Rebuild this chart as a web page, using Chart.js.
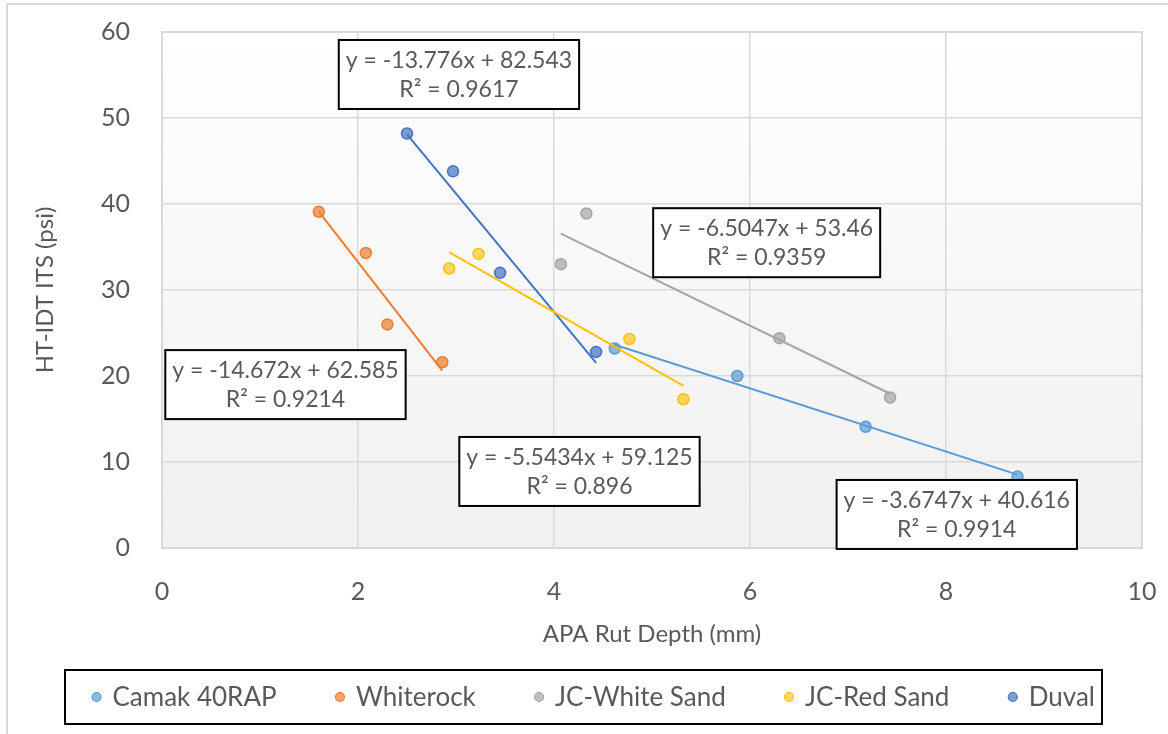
<!DOCTYPE html>
<html><head><meta charset="utf-8">
<script src="https://cdn.jsdelivr.net/npm/chart.js@4"></script>
<style>html,body{margin:0;padding:0;background:#fff}#wrap{width:1168px;height:734px;position:relative}</style>
</head><body><div id="wrap"><canvas id="c"></canvas></div>
<script>
// ---- data ----
const seriesNames = ['Camak 40RAP', 'Whiterock', 'JC-White Sand', 'JC-Red Sand', 'Duval'];
const camakX = [4.62, 5.87, 7.18, 8.73];
const camakY = [23.2, 20.0, 14.1, 8.3];
const whiterockX = [1.60, 2.08, 2.30, 2.86];
const whiterockY = [39.1, 34.3, 26.0, 21.6];
const whiteSandX = [4.33, 4.07, 6.30, 7.43];
const whiteSandY = [38.9, 33.0, 24.4, 17.5];
const redSandX = [2.93, 3.23, 4.77, 5.32];
const redSandY = [32.5, 34.2, 24.3, 17.3];
const duvalX = [2.50, 2.97, 3.45, 4.43];
const duvalY = [48.2, 43.8, 32.0, 22.8];
const trendSlopes = [-3.6747, -14.672, -5.5434, -6.5047, -13.776];
const trendIntercepts = [40.616, 62.585, 59.125, 53.46, 82.543];
const trendR2 = ['0.9914', '0.9214', '0.896', '0.9359', '0.9617'];
const xTicks = [0, 2, 4, 6, 8, 10];
const yTicks = [0, 10, 20, 30, 40, 50, 60];
const xTitle = 'APA Rut Depth (mm)';
const yTitle = 'HT-IDT ITS (psi)';

// ---- styles ----
const colors = ['#5B9BD5', '#ED7D31', '#A5A5A5', '#FFC000', '#4472C4'];
const fills = ['rgba(91,155,213,0.7)', 'rgba(237,125,49,0.7)', 'rgba(165,165,165,0.7)', 'rgba(255,192,0,0.6)', 'rgba(68,114,196,0.7)'];
const eqAnchors = [[8.11, 3.9], [1.26, 19.0], [4.26, 8.9], [6.17, 35.5], [3.03, 55.06]];
const FONT = 'Lato';
const TXT = '#595959';

const xs = [camakX, whiterockX, whiteSandX, redSandX, duvalX];
const ys = [camakY, whiterockY, whiteSandY, redSandY, duvalY];

const datasets = [];
seriesNames.forEach((name, i) => {
  datasets.push({
    type: 'scatter', label: name, order: 2,
    data: xs[i].map((x, k) => ({x: x, y: ys[i][k]})),
    backgroundColor: fills[i], borderColor: colors[i],
    pointRadius: 5.5, pointBorderWidth: 1.5, pointHoverRadius: 5.5
  });
});
seriesNames.forEach((name, i) => {
  const x0 = Math.min(...xs[i]), x1 = Math.max(...xs[i]);
  datasets.push({
    type: 'line', label: name + ' trend', order: 1,
    data: [x0, x1].map(x => ({x: x, y: trendSlopes[i] * x + trendIntercepts[i]})),
    borderColor: colors[i], borderWidth: 2, pointRadius: 0, fill: false, showLine: true
  });
});

const bgPlugin = {
  id: 'bg',
  beforeDraw(chart) {
    const {ctx, chartArea: a} = chart;
    ctx.save();
    const g = ctx.createLinearGradient(0, a.top, 0, a.bottom);
    g.addColorStop(0, '#ffffff');
    g.addColorStop(1, '#f0f0f0');
    ctx.fillStyle = g;
    ctx.fillRect(a.left, a.top, a.right - a.left, a.bottom - a.top);
    ctx.strokeStyle = '#d9d9d9';
    ctx.lineWidth = 2;
    ctx.strokeRect(7, 4, 1300, 900);
    ctx.restore();
  },
  afterDraw(chart) {
    const {ctx, chartArea: a} = chart;
    ctx.save();
    ctx.strokeStyle = '#d9d9d9';
    ctx.lineWidth = 2;
    ctx.strokeRect(a.left, a.top, a.right - a.left, a.bottom - a.top);
    // equation boxes
    const sx = chart.scales.x, sy = chart.scales.y;
    ctx.font = '23px ' + FONT;
    ctx.textAlign = 'center';
    ctx.textBaseline = 'middle';
    seriesNames.forEach((n, i) => {
      const sign = trendIntercepts[i] >= 0 ? '+' : '-';
      const l1 = 'y = ' + trendSlopes[i] + 'x ' + sign + ' ' + Math.abs(trendIntercepts[i]);
      const l2 = 'R\u00B2 = ' + trendR2[i];
      const w = Math.max(ctx.measureText(l1).width, ctx.measureText(l2).width) + 14;
      const h = 69;
      const cx = sx.getPixelForValue(eqAnchors[i][0]);
      const cy = sy.getPixelForValue(eqAnchors[i][1]);
      ctx.fillStyle = '#ffffff';
      ctx.fillRect(cx - w / 2, cy - h / 2, w, h);
      ctx.strokeStyle = '#000000';
      ctx.lineWidth = 2;
      ctx.strokeRect(cx - w / 2, cy - h / 2, w, h);
      ctx.fillStyle = TXT;
      ctx.fillText(l1, cx, cy - 14);
      ctx.fillText(l2, cx, cy + 15);
    });
    // legend
    ctx.font = '26px ' + FONT;
    ctx.textAlign = 'left';
    const mk = 20.5, r = 4.5;
    const itemsLeft = 92, itemsRight = 1095;
    const widths = seriesNames.map(n => mk + ctx.measureText(n).width);
    const sumW = widths.reduce((s, v) => s + v, 0);
    const gap = (itemsRight - itemsLeft - sumW) / (seriesNames.length - 1);
    let x = itemsLeft;
    const ly = 697;
    ctx.strokeStyle = '#000000';
    ctx.lineWidth = 2;
    ctx.strokeRect(65, 670, 1037, 54);
    seriesNames.forEach((n, i) => {
      ctx.beginPath();
      ctx.arc(x + r, ly, r, 0, Math.PI * 2);
      ctx.fillStyle = fills[i];
      ctx.fill();
      ctx.strokeStyle = colors[i];
      ctx.lineWidth = 1.2;
      ctx.stroke();
      ctx.fillStyle = TXT;
      ctx.fillText(n, x + mk, ly + 1);
      x += widths[i] + gap;
    });
    ctx.restore();
  }
};

new Chart(document.getElementById('c'), {
  data: {datasets: datasets},
  options: {
    responsive: true, maintainAspectRatio: false, animation: false,
    layout: {padding: {left: 10, right: 26, top: 32, bottom: 74}},
    plugins: {legend: {display: false}, tooltip: {enabled: false}},
    scales: {
      x: {
        type: 'linear', min: 0, max: 10,
        afterBuildTicks: s => { s.ticks = xTicks.map(v => ({value: v})); },
        afterFit: s => { s.height = 112; s.paddingLeft = 0; s.paddingRight = 0; },
        grid: {color: '#d9d9d9', lineWidth: 1.5, drawTicks: false},
        border: {display: false},
        ticks: {color: TXT, font: {family: FONT, size: 25}, padding: 29},
        title: {display: true, text: xTitle, color: TXT, font: {family: FONT, size: 24}, padding: {top: 0, bottom: 11}}
      },
      y: {
        type: 'linear', min: 0, max: 60,
        afterBuildTicks: s => { s.ticks = yTicks.map(v => ({value: v})); },
        afterFit: s => { s.width = 152; s.paddingTop = 0; s.paddingBottom = 0; },
        grid: {color: '#d9d9d9', lineWidth: 1.5, drawTicks: false},
        border: {display: false},
        ticks: {color: TXT, font: {family: FONT, size: 25}, padding: 32},
        title: {display: true, text: yTitle, color: TXT, font: {family: FONT, size: 24}, padding: {top: 21, bottom: 0}}
      }
    }
  },
  plugins: [bgPlugin]
});
</script></body></html>
